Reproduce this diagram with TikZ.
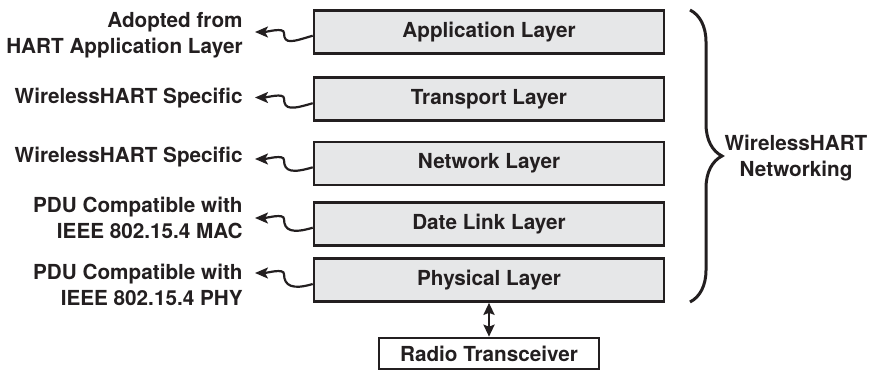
\documentclass[tikz,border=0pt]{standalone}
\usepackage{fontspec}
\setmainfont{TeX Gyre Heros}
\usetikzlibrary{arrows.meta,decorations.pathreplacing,calc}
\definecolor{layerGray}{RGB}{230,231,232}
\definecolor{inkBlack}{RGB}{35,31,32}

\begin{document}
\begin{tikzpicture}[x=0.5pt,y=0.5pt,
    font=\fontsize{10.35}{13}\selectfont\bfseries, text=inkBlack,
    layer/.style={draw=inkBlack, line width=1.3pt, fill=layerGray,
      minimum width=175pt, minimum height=21.5pt, inner sep=0pt},
    side/.style={anchor=east, align=right, inner sep=0pt},
    squig/.style={draw=inkBlack, line width=1.1pt, -{Stealth[length=6.5pt,width=5.5pt,inset=1.5pt]},
      to path={.. controls +(-20,-6) and +(0,-12) .. ($(\tikztotarget)+(29,-1)$)
        .. controls +(0,6) and +(12,0) .. (\tikztotarget)}}]
  \useasboundingbox (0,0) rectangle (871,371);

  % protocol stack
  \node[layer] (app) at (489,339.3) {Application Layer};
  \node[layer] (trans) at (489,271.8) {Transport Layer};
  \node[layer] (net) at (489,207.7) {Network Layer};
  \node[layer] (link) at (489,147.3) {Date Link Layer};
  \node[layer] (phy) at (489,91) {Physical Layer};
  \node[layer, fill=white, minimum width=110pt, minimum height=15.5pt] (radio) at (489,17.5) {Radio Transceiver};
  \draw[inkBlack, line width=1.4pt, {Stealth[length=6pt,width=5.5pt,inset=1pt]}-{Stealth[length=6pt,width=5.5pt,inset=1pt]}] (phy) -- (radio);

  % notes on the left
  \node[side] (appNote) at (243,336) {Adopted from\\HART Application Layer};
  \node[side] (transNote) at (243,273) {WirelessHART Specific};
  \node[side] (netNote) at (243,214) {WirelessHART Specific};
  \node[side] (linkNote) at (243,153.5) {PDU Compatible with\\IEEE 802.15.4 MAC};
  \node[side] (phyNote) at (243,86.5) {PDU Compatible with\\IEEE 802.15.4 PHY};
  \coordinate (appTip) at (255,339);
  \coordinate (transTip) at (255,273.5);
  \coordinate (netTip) at (255,212);
  \coordinate (linkTip) at (255,153);
  \coordinate (phyTip) at (255,98);
  \draw[squig] ([yshift=-2pt]app.west) to (appTip);
  \draw[squig] ([yshift=-2pt]trans.west) to (transTip);
  \draw[squig] ([yshift=-2pt]net.west) to (netTip);
  \draw[squig] ([yshift=-2pt]link.west) to (linkTip);
  \draw[squig] ([yshift=-2pt]phy.west) to (phyTip);

  % brace
  \draw[inkBlack, line width=1.5pt, decorate, decoration={brace, amplitude=16pt}] (690,361) -- (690,69);
  \node[align=center] (whNet) at (796,212.5) {WirelessHART\\Networking};
\end{tikzpicture}
\end{document}
